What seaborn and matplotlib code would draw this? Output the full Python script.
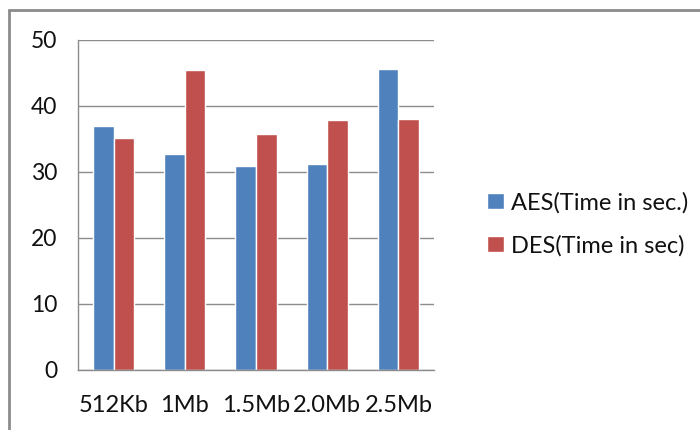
import numpy as np
import pandas as pd
import matplotlib
matplotlib.use("Agg")
import matplotlib.pyplot as plt
import seaborn as sns
from matplotlib.lines import Line2D

# values
sizes = ["512Kb", "1Mb", "1.5Mb", "2.0Mb", "2.5Mb"]
aes_time = [36.9, 32.8, 30.9, 31.2, 45.6]
des_time = [35.2, 45.4, 35.7, 37.9, 38.0]
series = ["AES(Time in sec.)", "DES(Time in sec)"]
colors = ["#4F81BD", "#C0504D"]
yticks = [0, 10, 20, 30, 40, 50]

df = pd.DataFrame({
    "size": sizes * 2,
    "series": [series[0]] * len(sizes) + [series[1]] * len(sizes),
    "time": aes_time + des_time,
})

sns.set_style("white")
plt.rcParams["font.family"] = ["Lato", "DejaVu Sans"]

fig = plt.figure(figsize=(7, 4.3), dpi=100)
ax = fig.add_axes([78 / 700, 60 / 430, 356 / 700, 330 / 430])

sns.barplot(data=df, x="size", y="time", hue="series", palette=colors,
            width=0.58, gap=0, saturation=1, ax=ax, legend=True)

ax.set_xlim(-0.5, len(sizes) - 0.5)
ax.set_ylim(0, 50)
ax.set_yticks(yticks)
ax.set_xlabel("")
ax.set_ylabel("")

grid_c = "#8c8c8c"
ax.yaxis.grid(True, color=grid_c, linewidth=1)
ax.set_axisbelow(True)
for side in ["top", "right"]:
    ax.spines[side].set_visible(False)
for side in ["left", "bottom"]:
    ax.spines[side].set_color(grid_c)
    ax.spines[side].set_linewidth(1)

# ticks between categories, like the spreadsheet chart
ax.set_xticks(np.arange(-0.5, len(sizes), 1.0), minor=True)
ax.tick_params(axis="x", which="major", length=0, pad=18, labelsize=17, colors="#111111")
ax.tick_params(axis="x", which="minor", length=8, width=1, color=grid_c)
ax.tick_params(axis="y", length=8, width=1, color=grid_c, pad=7, labelsize=16.5, labelcolor="#111111")

handles, labels = ax.get_legend_handles_labels()
ax.legend(handles, labels, loc="center left", bbox_to_anchor=(466 / 700, 1 - 224 / 430),
          bbox_transform=fig.transFigure, frameon=False, fontsize=17, labelcolor="#111111",
          handlelength=0.7, handleheight=0.7, handletextpad=0.3, labelspacing=0.9)

# outer chart frame (only the left and top edges show)
fig.add_artist(Line2D([9 / 700, 9 / 700], [0, 1 - 10 / 430], transform=fig.transFigure,
                      color="#8c8c8c", linewidth=2))
fig.add_artist(Line2D([9 / 700, 1], [1 - 10 / 430, 1 - 10 / 430], transform=fig.transFigure,
                      color="#8c8c8c", linewidth=2))

fig.savefig("out.png", dpi=100)
